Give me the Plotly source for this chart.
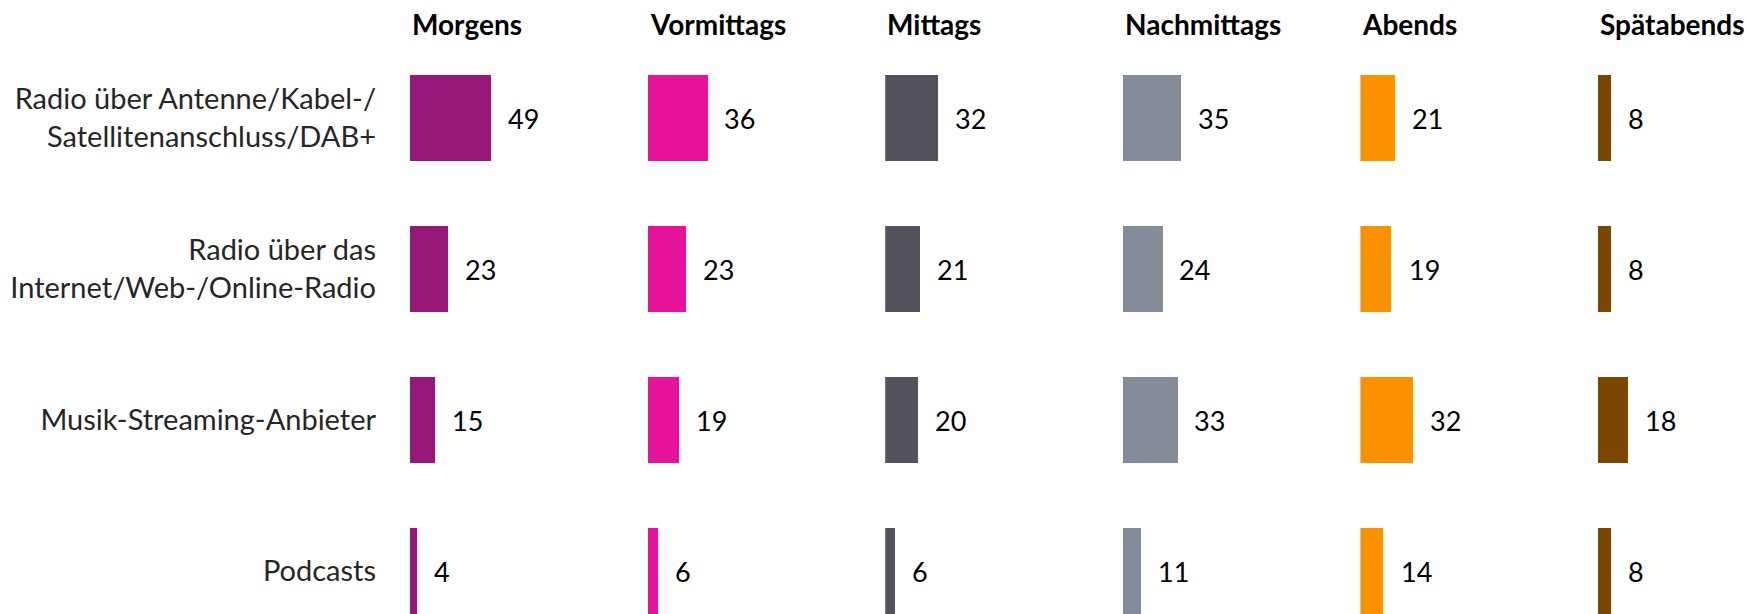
import plotly.graph_objects as go

categories = [
    "Radio über Antenne/Kabel-/<br>Satellitenanschluss/DAB+",
    "Radio über das<br>Internet/Web-/Online-Radio",
    "Musik-Streaming-Anbieter",
    "Podcasts",
]
periods = ["Morgens", "Vormittags", "Mittags", "Nachmittags", "Abends", "Spätabends"]
morgens = [49, 23, 15, 4]
vormittags = [36, 23, 19, 6]
mittags = [32, 21, 20, 6]
nachmittags = [35, 24, 33, 11]
abends = [21, 19, 32, 14]
spaetabends = [8, 8, 18, 8]
series = [morgens, vormittags, mittags, nachmittags, abends, spaetabends]
colors = ["#961679", "#E5129A", "#53535D", "#858C99", "#F99100", "#7A4600"]

W, H = 1746, 614
FONT = "Lato, 'Open Sans', sans-serif"
px_per_unit = 1.653
panel_start = 410.0
panel_step = 237.6
panel_w = 140.0

fig = go.Figure()
layout = dict(
    width=W, height=H,
    margin=dict(l=0, r=0, t=0, b=0),
    paper_bgcolor="white", plot_bgcolor="white",
    showlegend=False,
    bargap=0,
)
annotations = []
for i, (name, vals, col) in enumerate(zip(periods, series, colors)):
    ax = "" if i == 0 else str(i + 1)
    x0 = panel_start + i * panel_step
    x1 = min(x0 + panel_w, W)
    layout["xaxis" + ax] = dict(
        domain=[x0 / W, x1 / W],
        range=[0, (x1 - x0) / px_per_unit],
        showgrid=False, zeroline=False, showticklabels=False, showline=False,
        anchor="y", fixedrange=True,
    )
    fig.add_trace(go.Bar(
        x=vals, y=categories, orientation="h",
        marker=dict(color=col, line=dict(width=0)),
        width=0.57, xaxis="x" + ax, yaxis="y",
        hoverinfo="skip", cliponaxis=False,
    ))
    for c, v in zip(categories, vals):
        annotations.append(dict(
            x=v, y=c, xref="x" + ax, yref="y", text=str(v),
            showarrow=False, xanchor="left", yanchor="middle", xshift=15,
            font=dict(family=FONT, size=27, color="#000000"),
        ))
    annotations.append(dict(
        x=0, y=1 - 24 / H, xref="x" + ax, yref="paper",
        text="<b>" + name + "</b>", showarrow=False,
        xanchor="left", yanchor="middle", xshift=0,
        font=dict(family=FONT, size=28, color="#000000"),
    ))

layout["yaxis"] = dict(
    type="category", categoryarray=categories,
    range=[(H - 118) / 151.0, -118 / 151.0],
    domain=[0, 1], anchor="x",
    showgrid=False, zeroline=False, showline=False,
    ticks="", ticklabelstandoff=33,
    tickfont=dict(family=FONT, size=29, color="#262626"),
    fixedrange=True,
)
layout["annotations"] = annotations
fig.update_layout(**layout)
fig.write_html(
    "out.html",
    config={"displayModeBar": False},
    post_script="document.body.style.margin='0px';document.body.style.overflow='hidden';",
)
